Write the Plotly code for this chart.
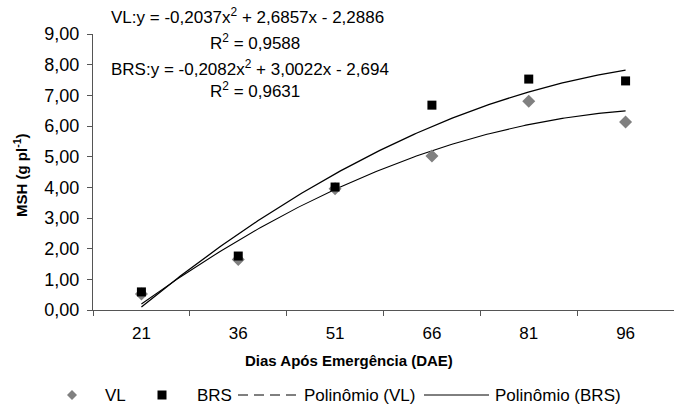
import numpy as np
import plotly.graph_objects as go

# ---- data ----
categories = ["21", "36", "51", "66", "81", "96"]
cat_index = [1, 2, 3, 4, 5, 6]
vl_values = [0.52, 1.65, 3.95, 5.02, 6.81, 6.13]
brs_values = [0.59, 1.76, 4.01, 6.68, 7.53, 7.47]
vl_coef = [-0.2037, 2.6857, -2.2886]
brs_coef = [-0.2082, 3.0022, -2.694]
y_tickvals = [0, 1, 2, 3, 4, 5, 6, 7, 8, 9]
y_ticktext = ["0,00", "1,00", "2,00", "3,00", "4,00", "5,00", "6,00", "7,00", "8,00", "9,00"]
eq_vl = "VL:y = -0,2037x<sup>2</sup> + 2,6857x - 2,2886"
r2_vl = "R<sup>2</sup> = 0,9588"
eq_brs = "BRS:y = -0,2082x<sup>2</sup> + 3,0022x - 2,694"
r2_brs = "R<sup>2</sup> = 0,9631"

W, H = 674, 411
L, T, R, B = 93, 34, 0, 101
PW, PH = W - L - R, H - T - B
FONT = "Liberation Sans, Arial, sans-serif"

def px(x):
    return (x - L) / PW

def py(y):
    return (T + PH - y) / PH

xs = np.linspace(1, 6, 200)
fig = go.Figure()
fig.add_trace(go.Scatter(x=xs, y=np.polyval(vl_coef, xs), mode="lines",
                         line=dict(color="black", width=1.1), showlegend=False))
fig.add_trace(go.Scatter(x=xs, y=np.polyval(brs_coef, xs), mode="lines",
                         line=dict(color="black", width=1.3), showlegend=False))
fig.add_trace(go.Scatter(x=cat_index, y=vl_values, mode="markers",
                         marker=dict(symbol="diamond", size=10, color="#808080"),
                         showlegend=False))
fig.add_trace(go.Scatter(x=cat_index, y=brs_values, mode="markers",
                         marker=dict(symbol="square", size=9, color="black"),
                         showlegend=False))

fig.update_layout(
    width=W, height=H, margin=dict(l=L, r=R, t=T, b=B),
    paper_bgcolor="white", plot_bgcolor="white",
    font=dict(family=FONT, size=16, color="black"),
    showlegend=False,
    xaxis=dict(range=[0.5, 6.5], tickvals=cat_index, ticktext=categories,
               ticks="", showgrid=False, zeroline=False, showline=True,
               linecolor="#555", linewidth=1, ticklabelstandoff=8,
               tickfont=dict(size=17),
               minor=dict(tickvals=[0.5, 1.5, 2.5, 3.5, 4.5, 5.5, 6.5],
                          ticks="outside", ticklen=5, tickcolor="#555")),
    yaxis=dict(range=[0, 9], tickvals=y_tickvals, ticktext=y_ticktext,
               ticks="outside", ticklen=5, tickcolor="#555", showgrid=False,
               zeroline=False, showline=True, linecolor="#555", linewidth=1,
               ticklabelstandoff=4, tickfont=dict(size=18)),
)

ann = []
ann.append(dict(text="<b>Dias Após Emergência (DAE)</b>", x=px(349), y=py(360),
                xref="paper", yref="paper", showarrow=False, font=dict(size=15),
                xanchor="center", yanchor="middle"))
ann.append(dict(text="<b>MSH (g pl<sup>-1</sup>)</b>", x=px(20), y=py(175),
                xref="paper", yref="paper", showarrow=False, font=dict(size=15),
                textangle=-90, xanchor="center", yanchor="middle"))
for txt, xx, yy in [(eq_vl, 109, 16), (r2_vl, 208, 42), (eq_brs, 109, 68), (r2_brs, 208, 90)]:
    ann.append(dict(text=txt, x=px(xx), y=py(yy), xref="paper", yref="paper",
                    showarrow=False, font=dict(size=17), xanchor="left", yanchor="middle"))

LY = 395
legend_texts = [("VL", 103), ("BRS", 195), ("Polinômio (VL)", 302), ("Polinômio (BRS)", 493)]
for txt, xx in legend_texts:
    ann.append(dict(text=txt, x=px(xx), y=py(LY), xref="paper", yref="paper",
                    showarrow=False, font=dict(size=17), xanchor="left", yanchor="middle"))
fig.update_layout(annotations=ann)

shapes = []
# diamond
cx, r = 72, 5
shapes.append(dict(type="path", xref="paper", yref="paper",
                   path=f"M {px(cx)} {py(LY - r)} L {px(cx + r)} {py(LY)} L {px(cx)} {py(LY + r)} L {px(cx - r)} {py(LY)} Z",
                   fillcolor="#808080", line=dict(width=0)))
# square
cx, r = 162, 4.5
shapes.append(dict(type="rect", xref="paper", yref="paper",
                   x0=px(cx - r), x1=px(cx + r), y0=py(LY + r), y1=py(LY - r),
                   fillcolor="black", line=dict(width=0)))
shapes.append(dict(type="line", xref="paper", yref="paper", x0=px(238), x1=px(300),
                   y0=py(LY), y1=py(LY), line=dict(color="black", width=1, dash="10px,6px")))
shapes.append(dict(type="line", xref="paper", yref="paper", x0=px(424), x1=px(489),
                   y0=py(LY), y1=py(LY), line=dict(color="black", width=1)))
fig.update_layout(shapes=shapes)

fig.write_html("out.html", config={"displayModeBar": False},
               post_script="document.body.style.margin='0';document.body.style.overflow='hidden';")
